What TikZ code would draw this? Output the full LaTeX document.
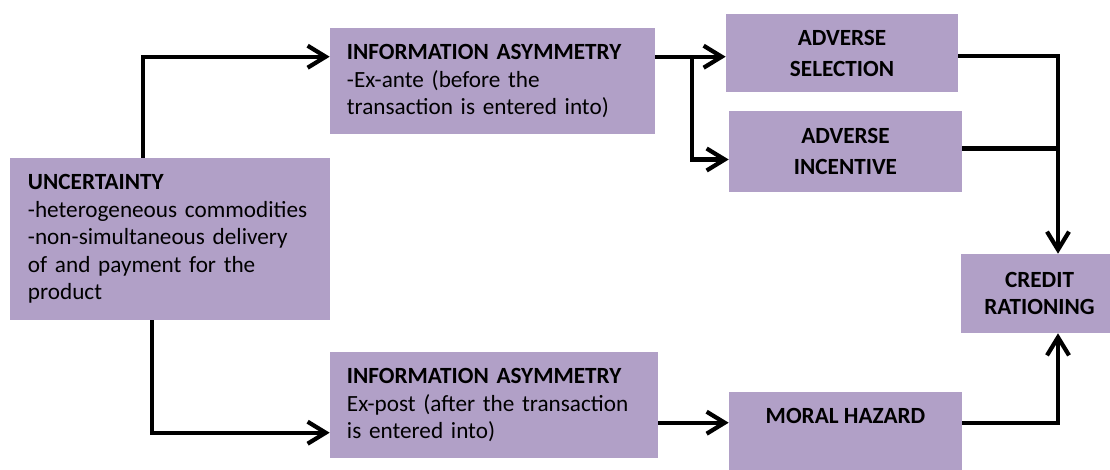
\documentclass[tikz,border=0pt]{standalone}
\usepackage{fontspec}
\setmainfont{Carlito}
\usetikzlibrary{arrows.meta}
\usetikzlibrary{calc}
\definecolor{lilac}{RGB}{177,160,199}

\begin{document}
\begin{tikzpicture}[x=0.025cm, y=-0.025cm,
    box/.style={fill=lilac, inner sep=0pt, font=\fontsize{16.5}{19.5}\selectfont},
    leftbox/.style={box, align=left},
    midbox/.style={box, align=center, font=\fontsize{16.5}{22}\selectfont\bfseries},
    rail/.style={line width=3pt},
    link/.style={rail, -{Straight Barb[length=0.45cm, width=0.55cm]}}]
    \useasboundingbox (0, 0) rectangle (1110, 469);

    \node [leftbox, minimum width=8cm, minimum height=4.05cm, text width=7.1cm] (unc) at (170, 239)
      {\textbf{UNCERTAINTY}\\-heterogeneous commodities\\-non-simultaneous delivery\\of and payment for the\\product};
    \node [leftbox, minimum width=8.125cm, minimum height=2.65cm, text width=7.275cm] (inf1) at (492.5, 81)
      {\textbf{INFORMATION ASYMMETRY}\\-Ex-ante (before the\\transaction is entered into)};
    \node [leftbox, minimum width=8.2cm, minimum height=2.65cm, text width=7.35cm] (inf2) at (494, 405)
      {\textbf{INFORMATION ASYMMETRY}\\Ex-post (after the transaction\\is entered into)};

    \node [midbox, minimum width=5.8cm, minimum height=1.95cm] (as) at (842, 53) {ADVERSE\\SELECTION};
    \node [midbox, minimum width=5.825cm, minimum height=2.025cm] (ai) at (845.5, 151.5) {ADVERSE\\INCENTIVE};
    \node [midbox, minimum width=5.825cm, minimum height=1.95cm] (mh) at (845.5, 431) {MORAL HAZARD\\\mbox{}};
    \node [midbox, font=\fontsize{16.5}{19.5}\selectfont\bfseries, minimum width=3.925cm, minimum height=1.975cm] (cr) at (1039.5, 293.5)
      {CREDIT\\RATIONING};

    % rails and branch points
    \coordinate (rail) at (1058, 0);
    \coordinate (fork) at ($(inf1.north east)+(37, 29)$);
    \coordinate (mhout) at ($(mh.north east)+(0, 31)$);

    \draw [link] ($(unc.north west)+(133, 0)$) |- ($(inf1.north west)+(0, 29)$);
    \draw [link] ($(unc.south west)+(142, 0)$) |- ($(inf2.north west)+(0, 81)$);

    \draw [rail] (inf1.east |- fork) -- (fork);
    \draw [link] (fork) -- (fork -| as.west);
    \draw [link] (fork) |- ($(ai.west)+(0, 8)$);
    \draw [link] (inf2.east |- mhout) -- (mh.west |- mhout);

    \draw [link] ($(as.east)+(0, 3)$) -| (cr.north -| rail);
    \draw [rail] ($(ai.east)+(0, -3)$) -- ($(ai.east -| rail)+(0, -3)$);
    \draw [link] (mhout) -| (cr.south -| rail);
  \end{tikzpicture}
\end{document}
